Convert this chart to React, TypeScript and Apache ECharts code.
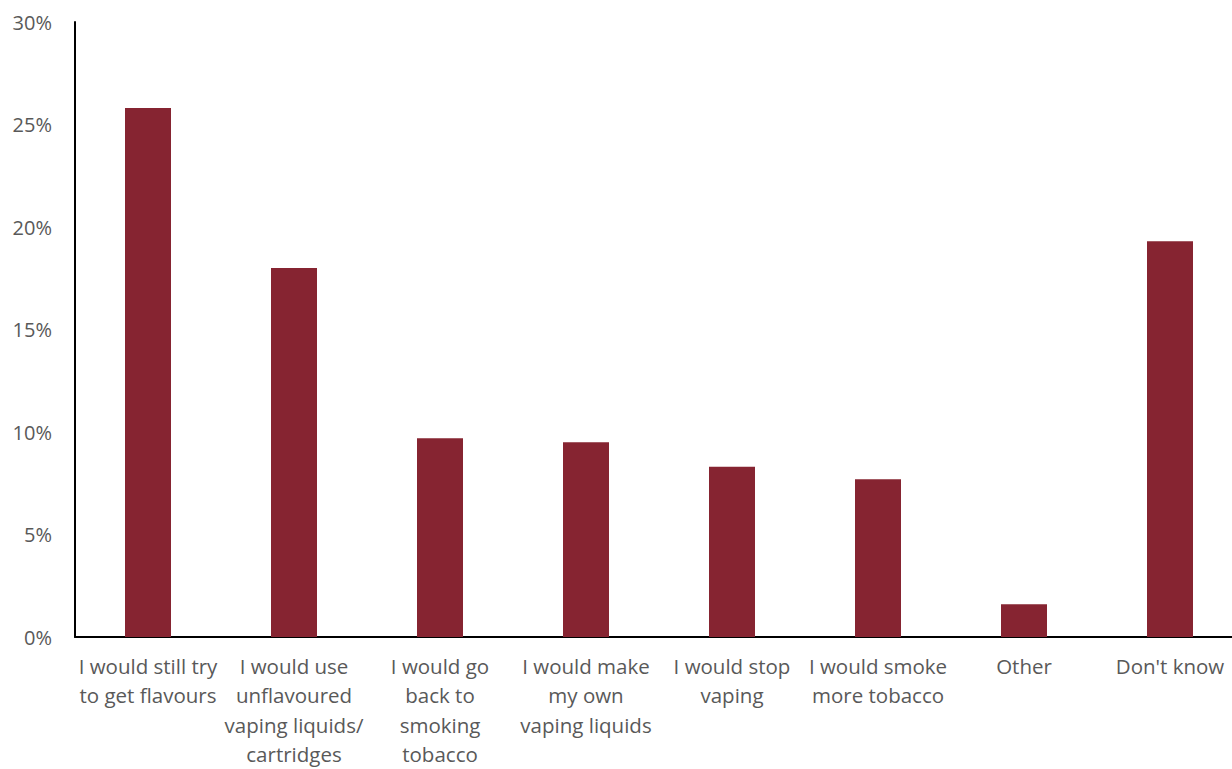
import React, { useEffect, useRef } from "react";
import * as echarts from "echarts";

const categories: string[] = [
  "I would still try\nto get flavours",
  "I would use\nunflavoured\nvaping liquids/\ncartridges",
  "I would go\nback to\nsmoking\ntobacco",
  "I would make\nmy own\nvaping liquids",
  "I would stop\nvaping",
  "I would smoke\nmore tobacco",
  "Other",
  "Don't know",
];
const values: number[] = [25.8, 18.0, 9.7, 9.5, 8.3, 7.7, 1.6, 19.3];
const yTicks = { min: 0, max: 30, interval: 5 };

export default function App() {
  const ref = useRef<HTMLDivElement>(null);
  useEffect(() => {
    if (!ref.current) return;
    const chart = echarts.init(ref.current, undefined, { renderer: "svg" });
    const font = "'Open Sans', 'Noto Sans', sans-serif";
    chart.setOption({
      animation: false,
      backgroundColor: "#ffffff",
      grid: { left: 75, right: 0, top: 22, height: 617, containLabel: false },
      xAxis: {
        type: "category",
        data: categories,
        axisLine: { show: true, lineStyle: { color: "#000000", width: 2 } },
        axisTick: { show: false },
        axisLabel: {
          interval: 0,
          margin: 14,
          color: "#595959",
          fontFamily: font,
          fontSize: 20.5,
          lineHeight: 29.5,
          align: "center",
        },
      },
      yAxis: {
        type: "value",
        min: yTicks.min,
        max: yTicks.max,
        interval: yTicks.interval,
        splitLine: { show: false },
        axisLine: { show: true, lineStyle: { color: "#000000", width: 2 } },
        axisTick: { show: false },
        axisLabel: {
          margin: 23,
          color: "#595959",
          fontFamily: font,
          fontSize: 20,
          formatter: (v: number) => `${v}%`,
        },
      },
      series: [
        {
          type: "bar",
          data: values,
          barWidth: 46,
          itemStyle: { color: "#862431" },
        },
      ],
    });
    return () => chart.dispose();
  }, []);
  return (
    <div
      style={{
        position: "fixed",
        left: 0,
        top: 0,
        width: 1232,
        height: 769,
        overflow: "hidden",
        background: "#fff",
      }}
    >
      <div ref={ref} style={{ width: 1243, height: 769 }} />
    </div>
  );
}
